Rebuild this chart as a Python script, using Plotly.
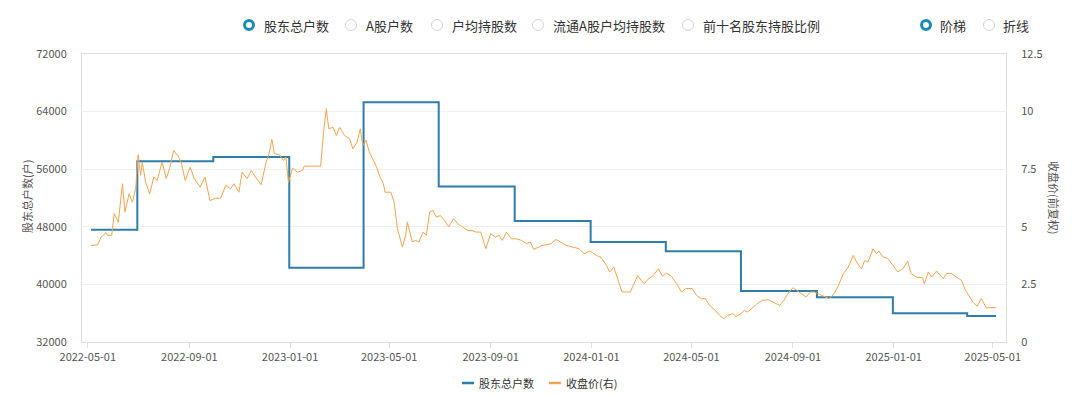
import plotly.graph_objects as go

# ---- data ----
holder_dates = ["2022-05-05", "2022-06-30", "2022-09-30", "2022-12-31", "2023-03-31",
                "2023-06-30", "2023-09-30", "2023-12-31", "2024-03-31", "2024-06-30",
                "2024-09-30", "2024-12-31", "2025-03-31", "2025-05-05"]
holder_counts = [47600, 57100, 57700, 42300, 65300, 53600, 48800, 45900, 44600, 39100,
                 38200, 36000, 35600, 35600]

price_dates = [
    "2022-05-05", "2022-05-13", "2022-05-17", "2022-05-23", "2022-05-25", "2022-05-30",
    "2022-06-02", "2022-06-07", "2022-06-12", "2022-06-15", "2022-06-20", "2022-06-24",
    "2022-06-28", "2022-07-01", "2022-07-04", "2022-07-06", "2022-07-10", "2022-07-15",
    "2022-07-20", "2022-07-24", "2022-07-30", "2022-08-04", "2022-08-08", "2022-08-13",
    "2022-08-18", "2022-08-22", "2022-08-27", "2022-09-02", "2022-09-07", "2022-09-14",
    "2022-09-20", "2022-09-23", "2022-09-26", "2022-10-03", "2022-10-09", "2022-10-15",
    "2022-10-21", "2022-10-25", "2022-10-31", "2022-11-04", "2022-11-10", "2022-11-15",
    "2022-11-20", "2022-11-27", "2022-12-03", "2022-12-06", "2022-12-10", "2022-12-13",
    "2022-12-19", "2022-12-24", "2022-12-27", "2022-12-30", "2023-01-04", "2023-01-10",
    "2023-01-16", "2023-01-18", "2023-02-07", "2023-02-11", "2023-02-14", "2023-02-15",
    "2023-02-17", "2023-02-22", "2023-02-26", "2023-03-02", "2023-03-08", "2023-03-14",
    "2023-03-18", "2023-03-23", "2023-03-27", "2023-03-30", "2023-04-03", "2023-04-07",
    "2023-04-11", "2023-04-15", "2023-04-20", "2023-04-24", "2023-04-26", "2023-05-03",
    "2023-05-07", "2023-05-11", "2023-05-17", "2023-05-21", "2023-05-23", "2023-05-29",
    "2023-06-02", "2023-06-06", "2023-06-11", "2023-06-15", "2023-06-19", "2023-06-23",
    "2023-06-27", "2023-07-02", "2023-07-07", "2023-07-12", "2023-07-18", "2023-07-23",
    "2023-07-29", "2023-08-04", "2023-08-09", "2023-08-14", "2023-08-20", "2023-08-26",
    "2023-09-01", "2023-09-07", "2023-09-11", "2023-09-15", "2023-09-20", "2023-09-26",
    "2023-10-02", "2023-10-08", "2023-10-14", "2023-10-19", "2023-10-23", "2023-10-28",
    "2023-11-02", "2023-11-07", "2023-11-13", "2023-11-19", "2023-11-25", "2023-12-01",
    "2023-12-09", "2023-12-17", "2023-12-23", "2023-12-30", "2024-01-07", "2024-01-13",
    "2024-01-19", "2024-01-23", "2024-01-28", "2024-02-02", "2024-02-07", "2024-02-17",
    "2024-02-22", "2024-02-26", "2024-03-01", "2024-03-05", "2024-03-09", "2024-03-16",
    "2024-03-22", "2024-03-27", "2024-04-01", "2024-04-07", "2024-04-13", "2024-04-19",
    "2024-04-24", "2024-05-02", "2024-05-07", "2024-05-13", "2024-05-18", "2024-05-23",
    "2024-05-30", "2024-06-04", "2024-06-09", "2024-06-14", "2024-06-20", "2024-06-24",
    "2024-06-30", "2024-07-04", "2024-07-08", "2024-07-14", "2024-07-20", "2024-07-26",
    "2024-08-02", "2024-08-08", "2024-08-16", "2024-08-21", "2024-08-26", "2024-09-01",
    "2024-09-06", "2024-09-11", "2024-09-17", "2024-09-22", "2024-09-27", "2024-10-03",
    "2024-10-09", "2024-10-15", "2024-10-21", "2024-10-27", "2024-11-01", "2024-11-07",
    "2024-11-13", "2024-11-17", "2024-11-23", "2024-11-27", "2024-12-01", "2024-12-07",
    "2024-12-11", "2024-12-14", "2024-12-19", "2024-12-25", "2024-12-31", "2025-01-06",
    "2025-01-12", "2025-01-18", "2025-01-22", "2025-01-28", "2025-02-05", "2025-02-07",
    "2025-02-12", "2025-02-16", "2025-02-22", "2025-03-02", "2025-03-06", "2025-03-12",
    "2025-03-18", "2025-03-24", "2025-03-29", "2025-04-03", "2025-04-07", "2025-04-12",
    "2025-04-17", "2025-04-23", "2025-05-05",
]
price_values = [
    4.19, 4.22, 4.55, 4.74, 4.63, 4.63,
    5.57, 5.20, 6.87, 5.64, 6.43, 6.07,
    6.65, 8.13, 7.23, 7.81, 6.94, 6.43,
    7.16, 7.01, 7.81, 7.09, 7.52, 8.31,
    8.10, 7.81, 7.01, 7.59, 7.09, 6.72,
    7.16, 6.65, 6.14, 6.24, 6.24, 6.80,
    6.65, 6.87, 6.50, 7.37, 7.09, 7.45,
    7.16, 6.83, 7.81, 8.10, 8.79, 8.17,
    8.13, 7.88, 8.02, 6.91, 7.55, 7.37,
    7.45, 7.63, 7.63, 9.25, 10.12, 9.76,
    9.25, 9.32, 8.96, 9.32, 8.96, 8.82,
    8.39, 8.67, 9.25, 8.53, 8.75, 8.24,
    7.95, 7.66, 7.16, 6.87, 6.50, 6.50,
    6.07, 4.92, 4.12, 4.63, 5.20, 4.34,
    4.41, 4.34, 4.77, 4.63, 5.64, 5.71,
    5.42, 5.49, 5.28, 4.99, 5.35, 5.13,
    4.99, 4.84, 4.84, 4.77, 4.77, 4.05,
    4.70, 4.55, 4.63, 4.41, 4.77, 4.48,
    4.48, 4.41, 4.27, 4.34, 4.02, 4.12,
    4.19, 4.22, 4.27, 4.45, 4.34, 4.20,
    4.12, 4.05, 3.83, 3.95, 3.76, 3.66,
    3.33, 3.04, 3.25, 2.68, 2.17, 2.17,
    2.60, 2.89, 2.68, 2.53, 2.71, 2.89,
    3.18, 2.85, 2.99, 2.85, 2.53, 2.17,
    2.32, 2.32, 2.03, 1.88, 1.88, 1.59,
    1.37, 1.16, 1.01, 1.16, 1.23, 1.11,
    1.23, 1.37, 1.30, 1.49, 1.67, 1.81,
    1.84, 1.73, 1.59, 1.81, 2.10, 2.36,
    2.24, 2.10, 1.95, 2.17, 2.17, 2.07,
    1.98, 1.88, 2.10, 2.53, 2.97, 3.25,
    3.76, 3.47, 3.18, 3.54, 3.47, 4.05,
    3.83, 3.95, 3.69, 3.62, 3.33, 3.04,
    3.18, 3.51, 2.97, 2.82, 2.79, 2.53,
    3.04, 2.82, 3.08, 2.75, 2.97, 2.97,
    2.82, 2.68, 2.24, 1.95, 1.73, 1.55,
    1.88, 1.49, 1.49,
]

x_tick_vals = ["2022-05-01", "2022-09-01", "2023-01-01", "2023-05-01", "2023-09-01",
               "2024-01-01", "2024-05-01", "2024-09-01", "2025-01-01", "2025-05-01"]
left_ticks = [32000, 40000, 48000, 56000, 64000, 72000]
left_tick_text = ["32000", "40000", "48000", "56000", "64000", "72000"]
right_ticks = [0, 2.5, 5, 7.5, 10, 12.5]
right_tick_text = ["0", "2.5", "5", "7.5", "10", "12.5"]

top_options = ["股东总户数", "A股户数", "户均持股数", "流通A股户均持股数", "前十名股东持股比例"]
top_selected = [True, False, False, False, False]
mode_options = ["阶梯", "折线"]
mode_selected = [True, False]

series_names = ["股东总户数", "收盘价(右)"]

# ---- styling ----
BLUE = "#2f7daa"
ORANGE = "#f7a34f"
TEAL = "#1a8db5"
FONT = "Noto Sans CJK SC, Liberation Sans, sans-serif"
W, H = 1080, 396
L, R, T, B = 82, 74, 54, 54
PW, PH = W - L - R, H - T - B


def px_to_paper(px, py):
    return (px - L) / PW, (H - B - py) / PH


fig = go.Figure()
fig.add_trace(go.Scatter(
    x=holder_dates, y=holder_counts, mode="lines", line=dict(color=BLUE, width=2, shape="hv"),
    name=series_names[0], yaxis="y", showlegend=False))
fig.add_trace(go.Scatter(
    x=price_dates, y=price_values, mode="lines", line=dict(color=ORANGE, width=1),
    name=series_names[1], yaxis="y2", showlegend=False))

shapes = []
annotations = []


def radio(cx, cy, label, sel, gap):
    xp, yp = px_to_paper(cx, cy)
    r = 4.5 if sel else 5.5
    shapes.append(dict(type="circle", xref="paper", yref="paper", xsizemode="pixel",
                       ysizemode="pixel", xanchor=xp, yanchor=yp,
                       x0=-r, x1=r, y0=-r, y1=r,
                       line=dict(color=TEAL if sel else "#d3d3d3", width=3 if sel else 1),
                       fillcolor="white"))
    tx, _ = px_to_paper(cx + gap, cy)
    annotations.append(dict(text=label, x=tx, y=yp, xref="paper", yref="paper",
                            xanchor="left", yanchor="middle", showarrow=False,
                            font=dict(size=13, color="#333", family=FONT)))


for label, sel, cx in zip(top_options, top_selected, [249, 351, 437, 538, 688]):
    radio(cx, 25, label, sel, 13)
for label, sel, cx in zip(mode_options, mode_selected, [926, 989]):
    radio(cx, 25, label, sel, 12)

# bottom legend
for name, color, lx in zip(series_names, [BLUE, ORANGE], [462, 549]):
    x0, yp = px_to_paper(lx, 383)
    x1, _ = px_to_paper(lx + 12, 383)
    shapes.append(dict(type="line", xref="paper", yref="paper", x0=x0, x1=x1, y0=yp, y1=yp,
                       line=dict(color=color, width=2.5)))
    tx, _ = px_to_paper(lx + 15, 383)
    annotations.append(dict(text=name, x=tx, y=yp, xref="paper", yref="paper",
                            xanchor="left", yanchor="middle", showarrow=False,
                            font=dict(size=11, color="#333", family=FONT)))

# axis titles
ax, ay = px_to_paper(27, 197)
annotations.append(dict(text="股东总户数(户)", x=ax, y=ay, xref="paper", yref="paper",
                        textangle=-90, showarrow=False, xanchor="center", yanchor="middle",
                        font=dict(size=11, color="#555", family=FONT)))
ax, ay = px_to_paper(1054, 197)
annotations.append(dict(text="收盘价(前复权)", x=ax, y=ay, xref="paper", yref="paper",
                        textangle=90, showarrow=False, xanchor="center", yanchor="middle",
                        font=dict(size=11, color="#555", family=FONT)))

fig.update_layout(
    width=W, height=H,
    margin=dict(l=L, r=R, t=T, b=B),
    paper_bgcolor="white", plot_bgcolor="white",
    font=dict(family=FONT, size=11, color="#555"),
    showlegend=False,
    shapes=shapes, annotations=annotations,
    xaxis=dict(
        type="date", range=["2022-04-24", "2025-05-17"],
        tickvals=x_tick_vals, tickformat="%Y-%m-%d",
        showgrid=False, showline=True, linecolor="#dcdde6", linewidth=1, mirror=True,
        ticks="outside", ticklen=5, tickcolor="#dcdde6",
        tickfont=dict(size=11, color="#555"), zeroline=False,
    ),
    yaxis=dict(
        range=[32000, 72000], tickvals=left_ticks, ticktext=left_tick_text,
        showgrid=True, gridcolor="#efefef",
        showline=True, linecolor="#dcdde6", linewidth=1, zeroline=False,
        ticks="", tickfont=dict(size=11, color="#555"), ticklabelstandoff=12,
    ),
    yaxis2=dict(
        range=[0, 12.5], tickvals=right_ticks, ticktext=right_tick_text, overlaying="y",
        side="right", showgrid=False, showline=True, linecolor="#dcdde6", linewidth=1,
        zeroline=False, ticks="", tickfont=dict(size=11, color="#555"),
        ticklabelstandoff=12,
    ),
)

fig.write_html("out.html", config={"displayModeBar": False},
               post_script="document.body.style.margin='0';")
